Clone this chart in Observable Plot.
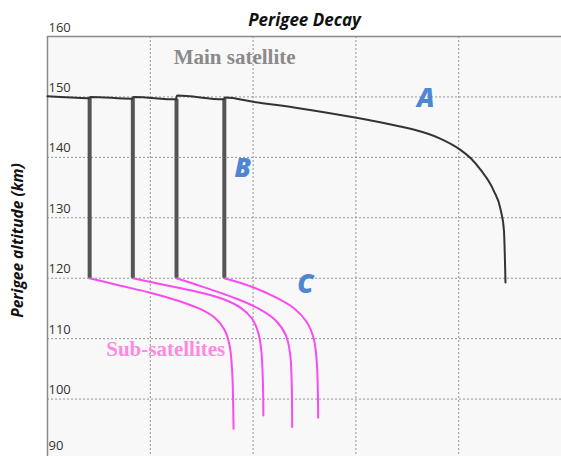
<!DOCTYPE html>
<html><head><meta charset="utf-8">
<script src="https://cdn.jsdelivr.net/npm/d3@7"></script>
<script src="https://cdn.jsdelivr.net/npm/@observablehq/plot@0.6"></script>
<style>
body{margin:0;background:#fff;}
#wrap{position:relative;width:561px;height:456px;overflow:hidden;}
#title{position:absolute;top:9px;left:0;width:609px;text-align:center;font:italic bold 17px "Open Sans",sans-serif;color:#111;line-height:22px;}
</style></head><body>
<div id="wrap"><div id="chart"></div><div id="title">Perigee Decay</div></div>
<script>
// Main satellite perigee (A)
const mainX   = [0, 0.40, 0.42, 0.82, 0.84, 1.25, 1.26, 1.71, 1.73, 2.00, 2.46, 3.02, 3.43, 3.56, 3.82, 4.02, 4.12, 4.21, 4.34, 4.41, 4.44, 4.45, 4.455];
const mainAlt = [150.1, 149.8, 150.0, 149.7, 150.0, 149.6, 150.25, 149.6, 149.9, 149.2, 148.1, 146.5, 145.1, 144.6, 143.1, 141.2, 139.8, 138.0, 134.5, 131.2, 127.9, 122.9, 119.3];
// Release drops (B)
const barX = [0.41, 0.83, 1.255, 1.72];
const barTop = [149.8, 149.7, 149.6, 149.6];
const barBottom = [120, 120, 120, 120];
// Sub-satellites (C)
const sub1X   = [0.41, 0.70, 1.00, 1.30, 1.50, 1.63, 1.72, 1.77, 1.795, 1.805, 1.81];
const sub1Alt = [120.0, 118.8, 117.6, 116.1, 114.8, 113.4, 111.5, 109.0, 105.0, 100.0, 95.1];
const sub2X   = [0.83, 1.05, 1.39, 1.70, 1.88, 1.99, 2.05, 2.08, 2.095, 2.10];
const sub2Alt = [120.0, 119.2, 118.0, 116.6, 115.1, 113.3, 111.0, 108.0, 103.0, 97.3];
const sub3X   = [1.255, 1.49, 1.81, 2.05, 2.22, 2.32, 2.36, 2.375, 2.38];
const sub3Alt = [120.0, 118.7, 116.8, 115.0, 113.0, 110.5, 107.5, 103.0, 95.4];
const sub4X   = [1.72, 1.97, 2.20, 2.40, 2.52, 2.59, 2.62, 2.63, 2.633];
const sub4Alt = [120.0, 118.7, 117.0, 115.0, 112.8, 110.0, 106.0, 101.0, 96.9];
// Axes
const yTicks = [100, 110, 120, 130, 140, 150, 160];
const yTickBottom = [90];
const yGrid = [100, 110, 120, 130, 140, 150];
const xGrid = [1, 2, 3, 4];
// Annotations
const letterText = ["A", "B", "C"];
const letterX = [3.68, 1.90, 2.51];
const letterY = [149.75, 138.2, 119.0];

const toRows = (xs, ys) => xs.map((x, i) => ({x, y: ys[i]}));
const subs = [[sub1X, sub1Alt], [sub2X, sub2Alt], [sub3X, sub3Alt], [sub4X, sub4Alt]];
const bars = barX.map((x, i) => ({x, y1: barBottom[i], y2: barTop[i]}));
const letters = letterText.map((t, i) => ({t, x: letterX[i], y: letterY[i]}));
const tickStyle = {y: d => d, frameAnchor: "left", text: d => String(d), textAnchor: "start", lineAnchor: "bottom", dx: 1, fontSize: 13, fill: "#333", fontFamily: "Open Sans"};

const chart = Plot.plot({
  width: 561, height: 456,
  marginLeft: 47, marginRight: 0, marginTop: 36, marginBottom: 0,
  x: {domain: [0, 5], axis: null},
  y: {domain: [90.5, 160], axis: null},
  style: {background: "transparent"},
  marks: [
    Plot.frame({fill: "#f8f8f8", stroke: null}),
    Plot.ruleY(yGrid, {stroke: "#949494", strokeDasharray: "2,2", strokeWidth: 1}),
    Plot.ruleX(xGrid, {stroke: "#949494", strokeDasharray: "2,2", strokeWidth: 1}),
    Plot.ruleY([160], {stroke: "#8a8a8a", strokeWidth: 1.5}),
    Plot.ruleX([0], {stroke: "#8a8a8a", strokeWidth: 1.5}),
    Plot.text(yTicks, {...tickStyle, dy: -5}),
    Plot.text(yTickBottom, {...tickStyle, dy: -10}),
    Plot.text(["Perigee altitude (km)"], {frameAnchor: "left", textAnchor: "middle", rotate: -90, dx: -29, dy: -6, fontSize: 15.5, fontWeight: "bold", fontStyle: "italic", fill: "#111", fontFamily: "Open Sans"}),
    ...subs.map(([xs, ys]) => Plot.line(toRows(xs, ys), {x: "x", y: "y", stroke: "#f84cf0", strokeWidth: 2, curve: "catmull-rom"})),
    Plot.ruleX(bars, {x: "x", y1: "y1", y2: "y2", stroke: "#555", strokeWidth: 4}),
    Plot.line(toRows(mainX, mainAlt), {x: "x", y: "y", stroke: "#333", strokeWidth: 2, curve: "monotone-x"}),
    Plot.text(["Main satellite"], {x: [1.82], y: [156.5], fontSize: 21, fontWeight: "bold", fill: "#8a8a8a", fontFamily: "Liberation Serif"}),
    Plot.text(["Sub-satellites"], {x: [1.15], y: [108.3], fontSize: 21, fontWeight: "bold", fill: "#ff88e2", fontFamily: "Liberation Serif"}),
    Plot.text(letters, {x: "x", y: "y", text: "t", fontSize: 26, fontWeight: 800, fontStyle: "italic", fill: "#4e86d2", fontFamily: "Open Sans"})
  ]
});
document.getElementById("chart").appendChild(chart);
</script>
</body></html>
